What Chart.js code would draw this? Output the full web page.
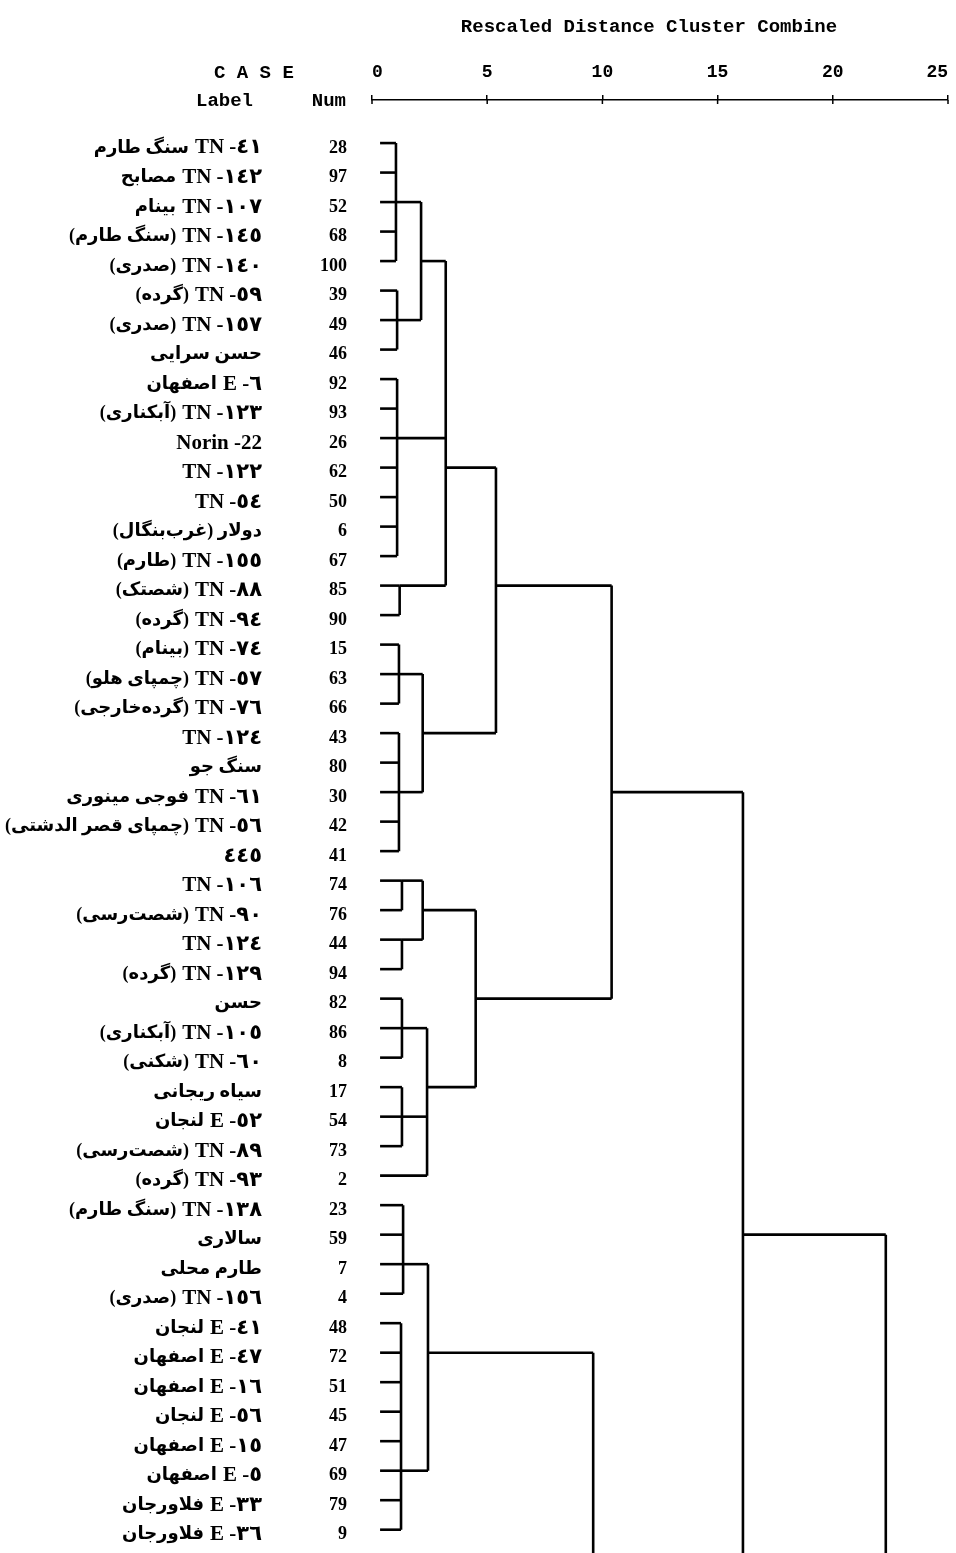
<!DOCTYPE html>
<html>
<head>
<meta charset="utf-8">
<script src="https://cdn.jsdelivr.net/npm/chart.js@4.4.1/dist/chart.umd.min.js"></script>
<style>
  html, body { margin: 0; padding: 0; background: #fff; }
  #wrap { position: relative; width: 956px; height: 1553px; }
</style>
</head>
<body>
<div id="wrap"><canvas id="dendro" width="956" height="1553"></canvas></div>
<script>
// ---- cases, top to bottom ----
const caseNums = [28, 97, 52, 68, 100, 39, 49, 46, 92, 93, 26, 62, 50, 6, 67, 85, 90,
    15, 63, 66, 43, 80, 30, 42, 41, 74, 76, 44, 94, 82, 86, 8, 17, 54, 73, 2,
    23, 59, 7, 4, 48, 72, 51, 45, 47, 69, 79, 9];

// code part of the label (drawn on the right, left-to-right)
const caseCodes = ['TN -٤١', 'TN -١٤٢', 'TN -١٠٧', 'TN -١٤٥', 'TN -١٤٠', 'TN -٥٩', 'TN -١٥٧', '',
    'E -٦', 'TN -١٢٣', 'Norin -22', 'TN -١٢٢', 'TN -٥٤', '', 'TN -١٥٥', 'TN -٨٨', 'TN -٩٤',
    'TN -٧٤', 'TN -٥٧', 'TN -٧٦', 'TN -١٢٤', '', 'TN -٦١', 'TN -٥٦', '٤٤٥',
    'TN -١٠٦', 'TN -٩٠', 'TN -١٢٤', 'TN -١٢٩', '', 'TN -١٠٥', 'TN -٦٠', '', 'E -٥٢', 'TN -٨٩', 'TN -٩٣',
    'TN -١٣٨', '', '', 'TN -١٥٦', 'E -٤١', 'E -٤٧', 'E -١٦', 'E -٥٦', 'E -١٥', 'E -٥', 'E -٣٣', 'E -٣٦'];

// persian name part of the label (drawn to the left of the code)
const caseNames = ['سنگ طارم', 'مصابح', 'بینام', '(سنگ طارم)', '(صدری)', '(گرده)', '(صدری)', 'حسن سرایی',
    'اصفهان', '(آبکناری)', '', '', '', 'دولار (غرب‌بنگال)', '(طارم)', '(شصتک)', '(گرده)',
    '(بینام)', '(چمپای هلو)', '(گرده‌خارجی)', '', 'سنگ جو', 'فوجی مینوری', '(چمپای قصر الدشتی)', '',
    '', '(شصت‌رسی)', '', '(گرده)', 'حسن', '(آبکناری)', '(شکنی)', 'سیاه ریجانی', 'لنجان', '(شصت‌رسی)', '(گرده)',
    '(سنگ طارم)', 'سالاری', 'طارم محلی', '(صدری)', 'لنجان', 'اصفهان', 'اصفهان', 'لنجان', 'اصفهان', 'اصفهان', 'فلاورجان', 'فلاورجان'];

// ---- joins (rescaled distance), row where the link leaves, parent join (-1 = off page) ----
const joinDist   = [1.04, 1.09, 2.13, 1.09, 1.2, 3.2, 1.17, 1.17, 2.2, 5.38, 1.3, 1.3, 2.2, 1.3, 1.3, 2.39, 4.5, 10.4, 1.35, 1.26, 2.43, 9.6, 16.1, 22.3];
const joinOut    = [2, 6, 4, 10, 15, 11, 18, 22, 20, 15, 25, 27, 26, 30, 33, 32, 29, 22, 38, 45, 41, -1, 37, -1];
const joinParent = [2, 2, 5, 5, 5, 9, 8, 8, 9, 17, 12, 12, 16, 15, 15, 16, 17, 22, 20, 20, 21, -1, 23, -1];
// joins whose bar carries on below the bottom of the page
const joinsRunningOn = [21, 22, 23];

// which join each case hangs from
const caseJoin = [0, 0, 0, 0, 0, 1, 1, 1, 3, 3, 3, 3, 3, 3, 3, 4, 4,
    6, 6, 6, 7, 7, 7, 7, 7, 10, 10, 11, 11, 13, 13, 13, 14, 14, 14, 15,
    18, 18, 18, 18, 19, 19, 19, 19, 19, 19, 19, 19];

const xTicks = [0, 5, 10, 15, 20, 25];
const LEAF_START = 0.35;
const OFF_PAGE_ROW = 50;

// ---- build line segments ----
function seg(x1, y1, x2, y2) {
    return {
        data: [{ x: x1, y: y1 }, { x: x2, y: y2 }],
        showLine: true,
        borderColor: '#000',
        borderWidth: 2.6,
        pointRadius: 0,
        fill: false
    };
}

const datasets = [];
caseNums.forEach((n, i) => {
    datasets.push(seg(LEAF_START, i, joinDist[caseJoin[i]], i));
});
joinDist.forEach((d, j) => {
    const rows = [];
    caseJoin.forEach((cj, i) => { if (cj === j) rows.push(i); });
    joinParent.forEach((p, k) => { if (p === j) rows.push(joinOut[k]); });
    const top = Math.min(...rows);
    const bottom = joinsRunningOn.includes(j) ? OFF_PAGE_ROW : Math.max(...rows);
    datasets.push(seg(d, top, d, bottom));
    if (joinParent[j] >= 0) {
        datasets.push(seg(d, joinOut[j], joinDist[joinParent[j]], joinOut[j]));
    }
});

// labels, header texts and the lower half of the '+' axis marks
const textPlugin = {
    id: 'caseText',
    afterDraw(chart) {
        const ctx = chart.ctx;
        const ys = chart.scales.y;
        const xs = chart.scales.x;
        ctx.save();
        ctx.fillStyle = '#000';
        ctx.strokeStyle = '#000';
        ctx.textBaseline = 'middle';

        ctx.font = 'bold 19px "Liberation Mono"';
        ctx.textAlign = 'center';
        ctx.fillText('Rescaled Distance Cluster Combine', 649, 27);
        ctx.textAlign = 'left';
        ctx.fillText('C A S E', 214, 73);
        ctx.fillText('Label', 196, 101);
        ctx.textAlign = 'right';
        ctx.fillText('Num', 346, 101);

        // lower arm of the '+' tick marks
        ctx.lineWidth = 1.5;
        xs.ticks.forEach(t => {
            const px = xs.getPixelForValue(t.value);
            ctx.beginPath();
            ctx.moveTo(px, chart.chartArea.top);
            ctx.lineTo(px, chart.chartArea.top + 4);
            ctx.stroke();
        });

        caseNums.forEach((n, i) => {
            const yy = ys.getPixelForValue(i) + 5;
            ctx.direction = 'ltr';
            ctx.textAlign = 'right';
            ctx.font = 'bold 18px "Liberation Serif", "DejaVu Sans"';
            ctx.fillText(String(n), 347, yy);
            let right = 262;
            if (caseCodes[i]) {
                ctx.font = 'bold 21px "Liberation Serif", "DejaVu Sans"';
                ctx.fillText(caseCodes[i], right, yy);
                right -= ctx.measureText(caseCodes[i]).width + 6;
            }
            if (caseNames[i]) {
                ctx.font = 'bold 18px "Liberation Serif", "DejaVu Sans"';
                ctx.direction = 'rtl';
                ctx.textAlign = 'right';
                ctx.fillText(caseNames[i], right, yy);
                ctx.direction = 'ltr';
            }
        });
        ctx.restore();
    }
};

new Chart(document.getElementById('dendro'), {
    type: 'scatter',
    data: { datasets: datasets },
    options: {
        responsive: false,
        animation: false,
        layout: { padding: { left: 372, right: 8, top: 0, bottom: 0 } },
        plugins: { legend: { display: false }, tooltip: { enabled: false }, title: { display: false } },
        scales: {
            x: {
                type: 'linear',
                position: 'top',
                min: 0,
                max: 25,
                afterFit(scale) {
                    scale.height = 100;
                    scale.paddingLeft = 0;
                    scale.paddingRight = 0;
                },
                afterBuildTicks(scale) { scale.ticks = xTicks.map(v => ({ value: v })); },
                ticks: {
                    color: '#000',
                    padding: 12,
                    align: 'inner',
                    autoSkip: false,
                    maxRotation: 0,
                    font: { family: '"Liberation Mono"', size: 18, weight: 'bold' }
                },
                grid: { drawOnChartArea: false, drawTicks: true, tickLength: 5, color: '#000', lineWidth: 1.5 },
                border: { display: true, color: '#000', width: 1.5, dash: [6, 5] }
            },
            y: {
                type: 'linear',
                display: false,
                reverse: true,
                min: -1.46,
                max: 47.79
            }
        }
    },
    plugins: [textPlugin]
});
</script>
</body>
</html>
